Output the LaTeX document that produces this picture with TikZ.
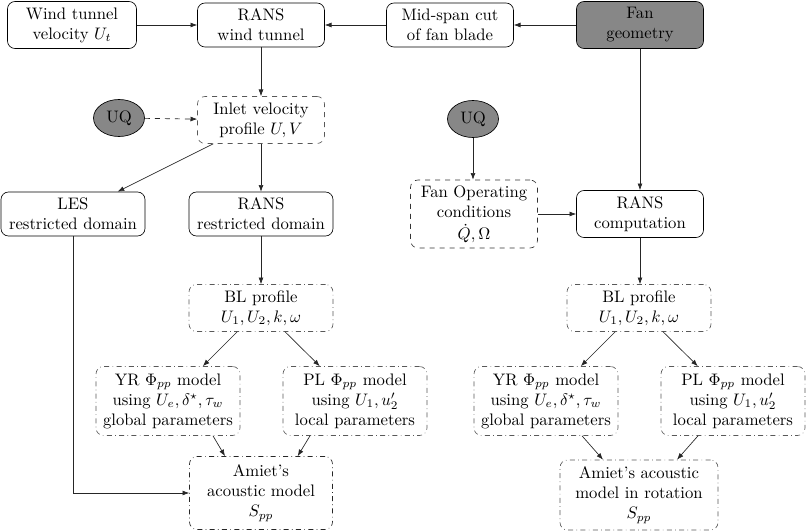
\documentclass[tikz,border=0pt]{standalone}
\usetikzlibrary{arrows.meta,shapes.geometric}
\begin{document}
\begin{tikzpicture}[x=0.6pt,y=-0.6pt,
  box/.style={draw, rounded corners=4.5pt, align=center, inner sep=1pt},
  dbox/.style={box, dashed, draw=black!65},
  ddbox/.style={box, dash dot, draw=black!65},
  gfill/.style={fill=black!47},
  uq/.style={draw, ellipse, gfill, minimum width=30.6pt, minimum height=22.2pt, inner sep=0pt},
  arr/.style={-{Latex[length=4pt,width=3pt]}, draw=black!85},
]
\useasboundingbox (0,0) rectangle (806,532);

\node[box, minimum width=77.4pt, minimum height=28.2pt] (wtv) at (72,25) {Wind tunnel\\velocity $U_t$};
\node[box, minimum width=76.2pt, minimum height=26.4pt] (ranswt) at (261,25) {RANS\\wind tunnel};
\node[box, minimum width=76.2pt, minimum height=26.4pt] (mid) at (450,25) {Mid-span cut\\of fan blade};
\node[box, gfill, minimum width=76.2pt, minimum height=28.2pt] (fan) at (640,25) {Fan\\geometry};

\node[uq] (uql) at (119,118) {UQ};
\node[dbox, minimum width=76.2pt, minimum height=28.2pt] (inlet) at (261,120) {Inlet velocity\\profile $U,V$};
\node[uq] (uqr) at (473,119) {UQ};

\node[dbox, draw=black!80, minimum width=76.2pt, minimum height=40.8pt] (fanop) at (474,214) {Fan Operating\\conditions\\[1.5pt]$\dot{Q},\Omega$};
\node[box, minimum width=76.2pt, minimum height=28.2pt] (ranscomp) at (640,214) {RANS\\computation};
\node[box, minimum width=86.4pt, minimum height=26.4pt] (les) at (73,214) {LES\\restricted domain};
\node[box, minimum width=86.4pt, minimum height=26.4pt] (ransrd) at (261,214) {RANS\\restricted domain};

\node[ddbox, minimum width=86.4pt, minimum height=28.2pt] (bll) at (261,308) {BL profile\\$U_1,U_2,k,\omega$};
\node[ddbox, minimum width=86.4pt, minimum height=28.2pt] (blr) at (639,308) {BL profile\\$U_1,U_2,k,\omega$};

\node[ddbox, minimum width=86.4pt, minimum height=41.4pt] (yrl) at (168,401) {YR $\Phi_{pp}$ model\\using $U_e,\delta^\star,\tau_w$\\global parameters};
\node[ddbox, minimum width=86.4pt, minimum height=41.4pt] (pll) at (355,401) {PL $\Phi_{pp}$ model\\using $U_1,u_2'$\\local parameters};
\node[ddbox, minimum width=86.4pt, minimum height=41.4pt] (yrr) at (546,401) {YR $\Phi_{pp}$ model\\using $U_e,\delta^\star,\tau_w$\\global parameters};
\node[ddbox, minimum width=86.4pt, minimum height=41.4pt] (plr) at (733,401) {PL $\Phi_{pp}$ model\\using $U_1,u_2'$\\local parameters};

\node[ddbox, draw=black!85, minimum width=85.8pt, minimum height=43.8pt] (aml) at (261,493) {Amiet's\\acoustic model\\$S_{pp}$};
\node[ddbox, minimum width=94.8pt, minimum height=42pt] (amr) at (639,495) {Amiet's acoustic\\model in rotation\\$S_{pp}$};

\draw[arr] (wtv) -- (ranswt);
\draw[arr] (mid) -- (ranswt);
\draw[arr] (fan) -- (mid);
\draw[arr] (fan) -- (fan |- ranscomp.north);
\draw[arr] (ranswt) -- (inlet);
\draw[arr, dashed] (uql) -- (inlet);
\draw[arr] (inlet) -- (les);
\draw[arr] (inlet) -- (ransrd);
\draw[arr] (ransrd) -- (bll);
\draw[arr] (bll) -- (yrl);
\draw[arr] (bll) -- (pll);
\draw[arr] ([xshift=27pt]yrl.south) -- ([xshift=-21.6pt]aml.north);
\draw[arr] ([xshift=-27pt]pll.south) -- ([xshift=22pt]aml.north);
\draw[arr] (les.south) |- (aml.west);

\draw[arr] (uqr) -- (uqr |- fanop.north);
\draw[arr] (fanop.east) -- (fanop.east -| ranscomp.west);
\draw[arr] (ranscomp) -- (ranscomp |- blr.north);
\draw[arr] (blr) -- (yrr);
\draw[arr] (blr) -- (plr);
\draw[arr] ([xshift=21.6pt]yrr.south) -- ([xshift=-21.6pt]amr.north);
\draw[arr] ([xshift=-21pt]plr.south) -- ([xshift=22.8pt]amr.north);
\end{tikzpicture}
\end{document}
